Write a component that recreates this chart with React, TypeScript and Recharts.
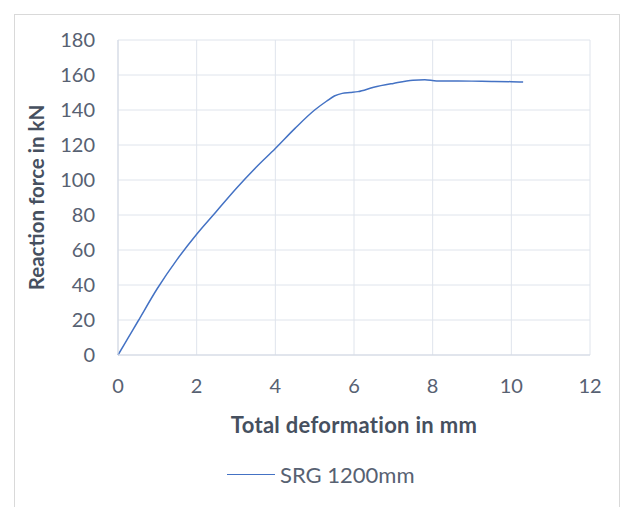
import { CartesianGrid, Legend, Line, LineChart, XAxis, YAxis } from "recharts";

const deformation = [
  0, 0.25, 0.5, 1, 1.5, 2, 2.5, 3, 3.5, 4, 4.5, 5, 5.3, 5.5, 5.7, 5.9, 6.1,
  6.5, 7, 7.5, 7.8, 8.1, 8.5, 9, 9.5, 10, 10.3,
];
const force = [
  0, 9.5, 19, 38, 54.5, 69, 82, 95, 107, 118, 129.5, 140, 145, 148, 149.5,
  150, 150.5, 153, 155.2, 157, 157.3, 156.6, 156.6, 156.5, 156.3, 156.2, 156,
];
const xTicks = [0, 2, 4, 6, 8, 10, 12];
const yTicks = [0, 20, 40, 60, 80, 100, 120, 140, 160, 180];
const seriesName = "SRG 1200mm";

const data = deformation.map((x, i) => ({ x, y: force[i] }));

const FONT = "Lato, 'Open Sans', sans-serif";
const TICK = "#576172";
const TITLE = "#46505f";
const GRID = "#dfe4ec";

function LegendContent() {
  return (
    <div style={{ display: "flex", alignItems: "center", fontFamily: FONT }}>
      <div style={{ width: 48, height: 0, borderTop: "1.5px solid #4472c4" }} />
      <span style={{ marginLeft: 5, fontSize: 22, color: TICK }}>
        {seriesName}
      </span>
    </div>
  );
}

export default function App() {
  return (
    <div
      style={{
        position: "fixed",
        left: 0,
        top: 0,
        width: 620,
        height: 507,
        background: "#fff",
        overflow: "hidden",
      }}
    >
      {/* chart border */}
      <div
        style={{
          position: "absolute",
          left: 14,
          top: 14,
          width: 604,
          height: 520,
          border: "1px solid #d9d9d9",
        }}
      />
      <LineChart
        width={620}
        height={507}
        data={data}
        margin={{ top: 40, right: 30, left: 0, bottom: 72 }}
        style={{ position: "absolute", left: 0, top: 0 }}
      >
        <CartesianGrid stroke={GRID} strokeWidth={1} />
        <XAxis
          dataKey="x"
          type="number"
          domain={[0, 12]}
          ticks={xTicks}
          height={80}
          axisLine={{ stroke: "#d3d9e4" }}
          tickLine={false}
          tickSize={0}
          tickMargin={24}
          tick={{ fill: TICK, fontSize: 20, fontFamily: FONT }}
          label={{
            value: "Total deformation in mm",
            position: "insideBottom",
            offset: 2,
            style: {
              fill: TITLE,
              fontSize: 22,
              fontWeight: 700,
              letterSpacing: 0.3,
              fontFamily: FONT,
            },
          }}
        />
        <YAxis
          type="number"
          domain={[0, 180]}
          ticks={yTicks}
          width={118}
          axisLine={{ stroke: "#d3d9e4" }}
          tickLine={false}
          tickSize={0}
          tickMargin={23}
          tick={{ fill: TICK, fontSize: 20, fontFamily: FONT }}
          label={{
            value: "Reaction force in kN",
            angle: -90,
            position: "insideLeft",
            offset: 37,
            style: {
              textAnchor: "middle",
              fill: TITLE,
              fontSize: 20.5,
              fontWeight: 700,
              fontFamily: FONT,
            },
          }}
        />
        <Legend
          verticalAlign="middle"
          content={<LegendContent />}
          wrapperStyle={{ position: "absolute", top: 461, left: 227, width: 260 }}
        />
        <Line
          type="monotone"
          dataKey="y"
          name={seriesName}
          stroke="#4472c4"
          strokeWidth={1.5}
          dot={false}
          isAnimationActive={false}
        />
      </LineChart>
    </div>
  );
}
